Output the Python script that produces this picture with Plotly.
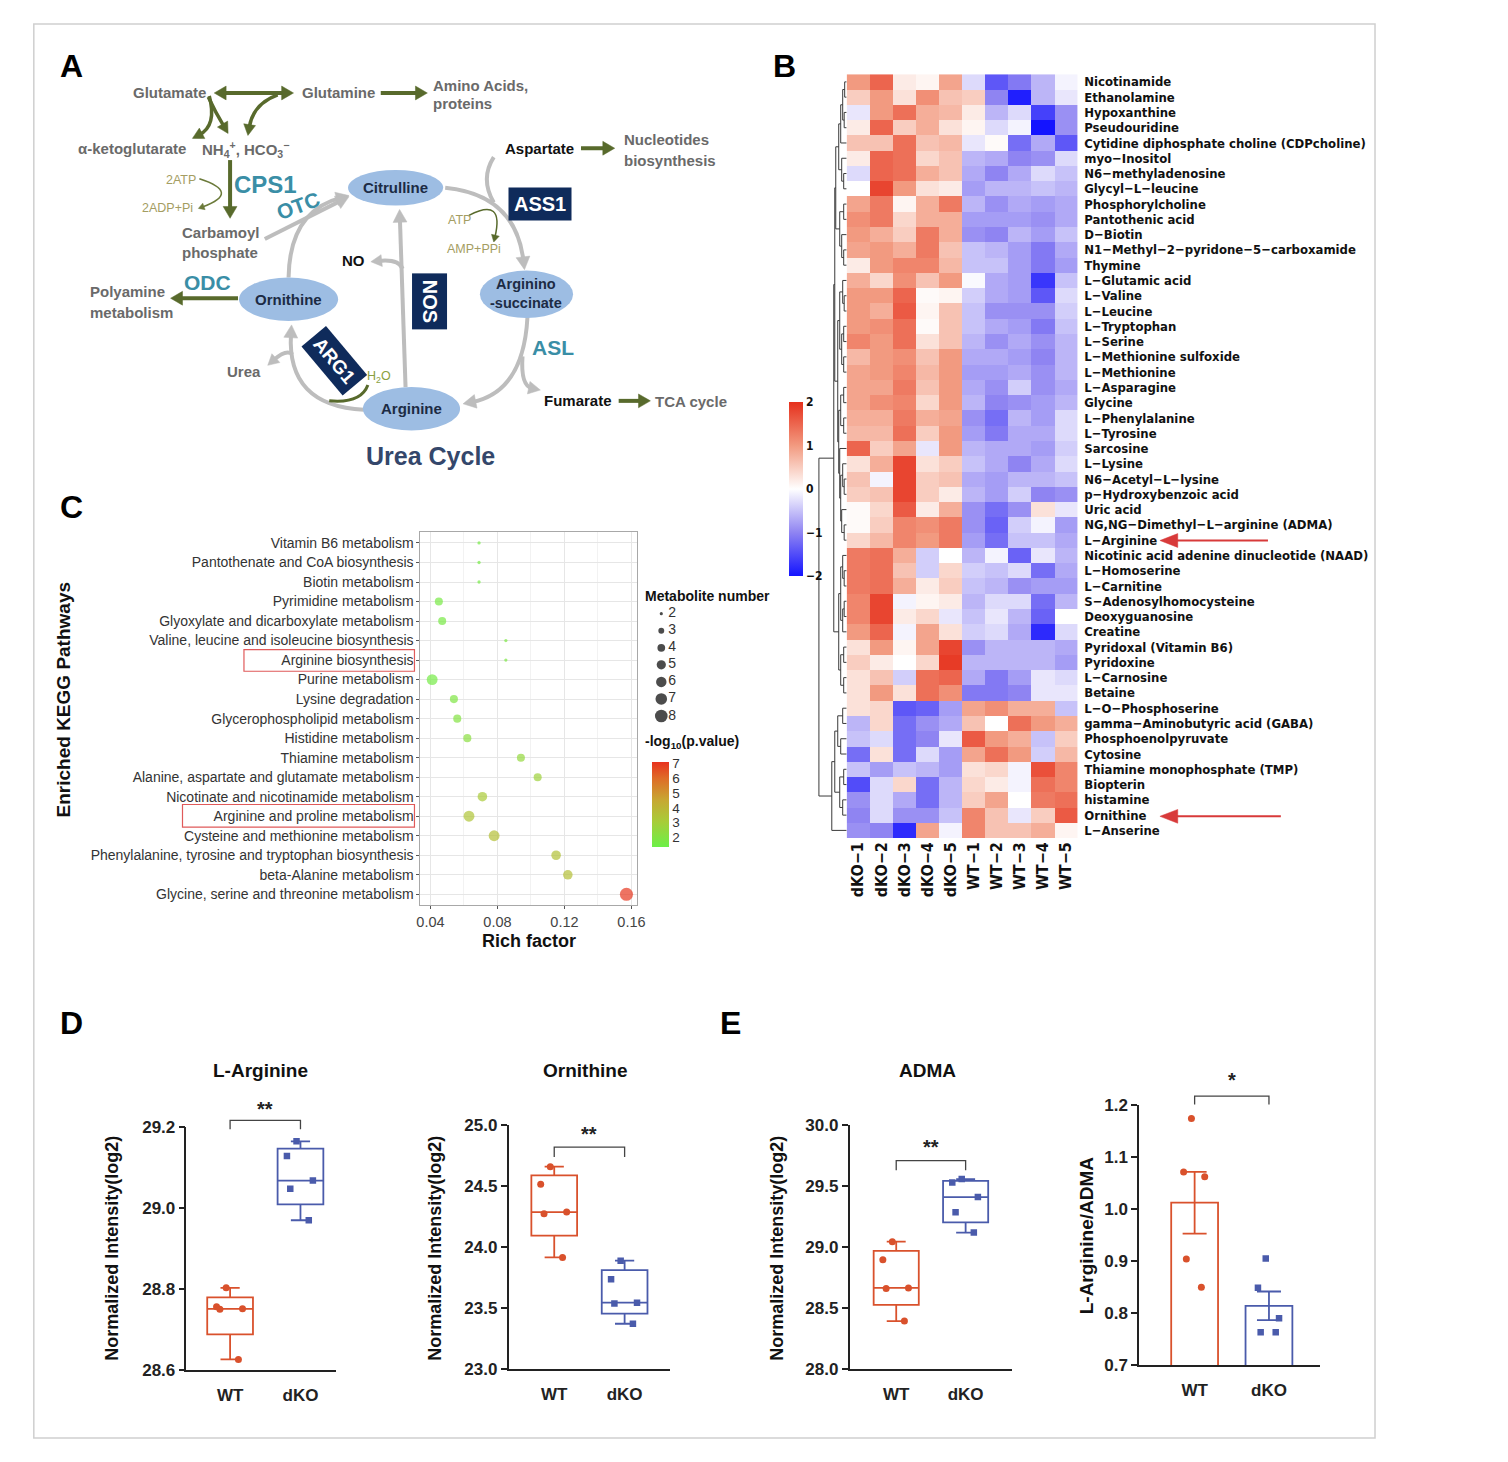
import math
import numpy as np
import plotly.graph_objects as go

W, H = 1508, 1462          # target picture size
OFF = 8                    # default page margin of the html body
FW, FH = W - 2 * OFF, H - 2 * OFF - 4
FONT = "Liberation Sans, Arial, Helvetica, sans-serif"
NARROW = "Liberation Sans Narrow, Arial Narrow, DejaVu Sans Condensed, Liberation Sans, sans-serif"

# ---------------- Panel B data (z-scored intensities) ----------------
heat_samples = ["dKO−1", "dKO−2", "dKO−3", "dKO−4", "dKO−5", "WT−1", "WT−2", "WT−3", "WT−4", "WT−5"]
heat_metabolites = [
    "Nicotinamide", "Ethanolamine", "Hypoxanthine", "Pseudouridine",
    "Cytidine diphosphate choline (CDPcholine)", "myo−Inositol", "N6−methyladenosine",
    "Glycyl−L−leucine", "Phosphorylcholine", "Pantothenic acid", "D−Biotin",
    "N1−Methyl−2−pyridone−5−carboxamide", "Thymine", "L−Glutamic acid", "L−Valine",
    "L−Leucine", "L−Tryptophan", "L−Serine", "L−Methionine sulfoxide", "L−Methionine",
    "L−Asparagine", "Glycine", "L−Phenylalanine", "L−Tyrosine", "Sarcosine", "L−Lysine",
    "N6−Acetyl−L−lysine", "p−Hydroxybenzoic acid", "Uric acid",
    "NG,NG−Dimethyl−L−arginine (ADMA)", "L−Arginine",
    "Nicotinic acid adenine dinucleotide (NAAD)", "L−Homoserine", "L−Carnitine",
    "S−Adenosylhomocysteine", "Deoxyguanosine", "Creatine", "Pyridoxal (Vitamin B6)",
    "Pyridoxine", "L−Carnosine", "Betaine", "L−O−Phosphoserine",
    "gamma−Aminobutyric acid (GABA)", "Phosphoenolpyruvate", "Cytosine",
    "Thiamine monophosphate (TMP)", "Biopterin", "histamine", "Ornithine", "L−Anserine",
]
heat_values = [
    [1.0, 1.5, 0.2, 0.1, 0.9, -0.3, -1.4, -1.1, -0.6, -0.1],
    [0.5, 1.0, 0.3, 1.1, 0.6, 0.5, -1.0, -1.9, -0.6, -0.2],
    [-0.2, 1.0, 1.4, 0.8, 0.7, 0.2, -0.6, -0.3, -1.6, -0.9],
    [0.2, 1.5, 0.5, 0.8, 0.3, 0.1, -0.3, -0.1, -2.0, -0.9],
    [0.6, 0.6, 1.4, 0.6, 0.7, -0.2, 0.05, -1.2, -0.7, -1.4],
    [0.2, 1.5, 1.4, 0.4, 0.6, -0.6, -0.7, -1.0, -0.9, -0.3],
    [-0.3, 1.5, 1.4, 0.8, 0.6, -0.7, -1.0, -0.7, -0.3, -0.5],
    [0.0, 1.8, 1.0, 0.3, 0.2, -0.8, -0.6, -0.6, -0.5, -0.6],
    [0.9, 1.3, 0.1, 0.8, 1.3, -0.6, -0.9, -0.7, -0.8, -0.7],
    [1.1, 1.3, 0.4, 0.8, 0.8, -0.8, -0.8, -0.8, -0.9, -0.7],
    [1.0, 0.8, 0.5, 1.3, 0.8, -0.9, -1.0, -0.6, -0.8, -0.5],
    [0.9, 1.0, 0.8, 1.3, 0.6, -0.5, -0.6, -0.8, -1.1, -0.7],
    [0.2, 1.0, 1.2, 1.2, 0.7, -0.5, -0.5, -0.8, -1.1, -0.8],
    [0.8, 0.4, 1.1, 0.6, 1.0, -0.05, -0.7, -0.8, -1.7, -0.5],
    [1.0, 1.0, 1.5, 0.05, 0.1, -0.4, -0.7, -0.8, -1.4, -0.3],
    [1.0, 0.8, 1.6, 0.1, 0.6, -0.5, -0.9, -0.9, -0.9, -0.4],
    [1.0, 1.1, 1.4, 0.05, 0.6, -0.5, -0.7, -0.8, -1.1, -0.5],
    [1.2, 1.0, 1.4, 0.3, 0.6, -0.6, -0.9, -0.7, -0.9, -0.6],
    [0.7, 1.0, 1.1, 0.6, 1.0, -0.7, -0.7, -0.8, -1.0, -0.6],
    [0.9, 1.0, 1.2, 0.7, 1.0, -0.8, -0.8, -0.7, -0.9, -0.6],
    [0.9, 0.9, 1.3, 0.6, 1.0, -0.7, -0.9, -0.4, -0.9, -0.7],
    [0.9, 1.1, 1.2, 0.4, 1.0, -0.6, -1.0, -0.9, -0.8, -0.6],
    [0.8, 0.8, 1.3, 0.8, 0.9, -0.9, -1.2, -0.6, -0.8, -0.3],
    [0.7, 0.7, 1.4, 0.5, 1.0, -0.8, -1.1, -0.7, -0.7, -0.3],
    [1.5, 0.5, 0.9, -0.2, 1.0, -0.6, -0.7, -0.7, -0.8, -0.4],
    [0.3, 0.8, 1.8, 0.3, 0.5, -0.5, -0.7, -1.0, -0.7, -0.3],
    [0.6, -0.1, 1.8, 0.5, 0.6, -0.7, -0.8, -0.6, -0.6, -0.5],
    [0.5, 0.6, 1.8, 0.5, 0.2, -0.6, -0.8, -0.4, -1.0, -0.9],
    [0.05, 0.4, 1.6, 0.2, 0.8, -0.9, -1.2, -0.9, 0.3, -0.2],
    [0.05, 0.5, 1.2, 1.1, 1.3, -0.9, -1.3, -0.4, -0.1, -0.8],
    [0.4, 0.7, 1.2, 1.0, 1.3, -0.8, -1.2, -0.5, -0.5, -0.7],
    [1.3, 1.4, 0.8, -0.4, 0.0, -0.6, -0.1, -1.3, -0.2, -0.6],
    [1.3, 1.4, 0.6, -0.4, 0.4, -0.4, -0.5, -0.3, -1.2, -0.7],
    [1.3, 1.4, 0.8, 0.2, 0.5, -0.5, -0.6, -0.9, -0.8, -0.8],
    [1.2, 1.8, -0.1, 0.1, 0.2, -0.6, -0.3, -0.3, -1.2, -0.6],
    [1.2, 1.8, 0.2, 0.4, -0.2, -0.5, -0.2, -0.6, -1.3, 0.0],
    [1.0, 1.5, -0.1, 0.9, 0.3, -0.4, -0.3, -0.7, -1.8, -0.3],
    [0.3, 1.0, 0.1, 0.9, 1.8, -0.9, -0.6, -0.6, -0.6, -0.7],
    [0.5, 0.2, 0.0, 0.4, 1.9, -0.6, -0.6, -0.6, -0.6, -0.8],
    [0.3, 0.6, -0.4, 1.4, 1.5, -0.7, -1.1, -0.8, -0.2, -0.3],
    [0.3, 1.0, 0.3, 1.4, 1.1, -1.1, -1.1, -1.0, -0.2, -0.2],
    [0.3, 0.4, -1.4, -1.3, -0.8, 0.9, 1.1, 0.8, 0.8, -0.5],
    [-0.6, 0.4, -1.2, -0.9, -0.7, 0.6, 0.0, 1.4, 1.0, 0.8],
    [-0.5, -0.3, -1.2, -1.0, -0.2, 1.6, 1.0, 0.8, -0.5, 0.5],
    [-1.2, 0.3, -1.2, -0.3, -0.8, 0.9, 1.4, 1.0, -0.4, 0.7],
    [-0.5, -0.8, -0.5, -0.6, -0.8, 0.3, 0.4, -0.1, 1.7, 1.2],
    [-1.5, -0.3, 0.4, -1.2, -0.6, 0.4, 0.2, -0.1, 1.4, 1.2],
    [-0.9, -0.3, -0.7, -1.2, -0.6, 0.5, 0.9, 0.0, 1.3, 1.4],
    [-1.0, -0.3, -0.9, -0.9, -0.5, 1.2, 0.6, -0.2, 0.5, 1.6],
    [-0.9, -1.0, -1.8, 0.9, -0.1, 1.2, 0.6, 0.6, 0.8, 0.1],
]
# row dendrogram (merge height, left, right); leaves are row indices
row_tree = (28,
            (13,
             (12,
              (11,
               (8, (6, (4, (2, 0, 1), (2.5, 2, 3)), 4), (5, 5, (3, 6, 7))),
               (7, (3, 8, 9), (5, 10, (3, 11, 12)))),
              (9, (7, (4, 13, (2.5, 14, 15)), (5, (3, 16, 17), (3, 18, 19))),
               (8, (6, (3, 20, 21), (3, 22, 23)),
                (7, 24, (6, (4, 25, (2.5, 26, 27)), (5, 28, (2.5, 29, 30))))))),
             (8, (6, (4, 31, (2.5, 32, 33)), (4, (2.5, 34, 35), 36)),
              (6, (3, 37, 38), (3, 39, 40)))),
            (15,
             (12, (9, (4, 41, 42), (6, 43, 44)), (7, (3, 45, 46), (4, 47, 48))),
             49))

# ---------------- Panel C data (KEGG enrichment) ----------------
kegg_pathways = [
    "Vitamin B6 metabolism", "Pantothenate and CoA biosynthesis", "Biotin metabolism",
    "Pyrimidine metabolism", "Glyoxylate and dicarboxylate metabolism",
    "Valine, leucine and isoleucine biosynthesis", "Arginine biosynthesis",
    "Purine metabolism", "Lysine degradation", "Glycerophospholipid metabolism",
    "Histidine metabolism", "Thiamine metabolism",
    "Alanine, aspartate and glutamate metabolism", "Nicotinate and nicotinamide metabolism",
    "Arginine and proline metabolism", "Cysteine and methionine metabolism",
    "Phenylalanine, tyrosine and tryptophan biosynthesis", "beta-Alanine metabolism",
    "Glycine, serine and threonine metabolism",
]
kegg_rich_factor = [0.069, 0.069, 0.069, 0.045, 0.047, 0.085, 0.085, 0.041, 0.054, 0.056,
                    0.062, 0.094, 0.104, 0.071, 0.063, 0.078, 0.115, 0.122, 0.157]
kegg_metabolite_number = [2, 2, 2, 4, 4, 2, 2, 6, 4, 4, 4, 4, 4, 5, 6, 6, 5, 5, 8]
kegg_neg_log10_p = [1.6, 1.6, 1.6, 1.7, 1.7, 1.8, 1.8, 1.6, 1.9, 2.0,
                    2.2, 2.5, 2.8, 3.1, 3.4, 3.6, 3.5, 3.6, 7.0]
size_legend_numbers = [2, 3, 4, 5, 6, 7, 8]

# ---------------- Panel D / E data ----------------
group_labels = ["WT", "dKO"]
larg_wt = [28.803, 28.756, 28.750, 28.751, 28.626]
larg_dko = [29.165, 29.129, 29.068, 29.048, 28.970]
orn_wt = [24.660, 24.515, 24.287, 24.273, 23.915]
orn_dko = [23.888, 23.735, 23.544, 23.538, 23.371]
adma_wt = [29.044, 28.895, 28.665, 28.660, 28.393]
adma_dko = [29.558, 29.529, 29.410, 29.286, 29.119]
ratio_wt = [1.175, 1.0625, 1.072, 0.904, 0.850]
ratio_dko = [0.905, 0.849, 0.790, 0.763, 0.763]

# ---------------- styles ----------------
RED, BLUE = "#d9512c", "#4a5bab"
OLIVE, GRAY, TEAL, NAVY = "#586a2c", "#bdbdbd", "#3a8ea6", "#0f2b5b"
KHAKI, TXTGRAY, ELLTXT, ELLFILL = "#a49d62", "#6a6a6a", "#1c2b44", "#9dbde3"
HEAT_CS = [[0, "#1414ff"], [0.25, "#8f84f2"], [0.5, "#ffffff"], [0.75, "#f29a80"], [1, "#e6301c"]]
BUB_CS = [[0, "#6cf048"], [0.3, "#a8cc38"], [0.55, "#c7a832"], [0.8, "#de6e28"], [1, "#e8321e"]]

fig = go.Figure()
shapes, annots = [], []


def fx(x):
    return (x - OFF) / FW


def fy(y):
    return 1 - (y - OFF) / FH


def pt(x, y):
    return f"{fx(x):.5f},{fy(y):.5f}"


def dom_x(a, b):
    return [fx(a), fx(b)]


def dom_y(top, bottom):
    return [fy(bottom), fy(top)]


def _head(tip, frm, L, hw):
    dx, dy = tip[0] - frm[0], tip[1] - frm[1]
    n = math.hypot(dx, dy) or 1.0
    ux, uy = dx / n, dy / n
    bx, by = tip[0] - ux * L, tip[1] - uy * L
    p1 = (bx - uy * hw, by + ux * hw)
    p2 = (bx + uy * hw, by - ux * hw)
    base = (tip[0] - ux * L * 0.7, tip[1] - uy * L * 0.7)
    return f"M{pt(*tip)} L{pt(*p1)} L{pt(*p2)} Z", base


def arrow(p0, p1, color, width, ctrl=None, L=11, hw=6, end=True, start=False):
    heads = []
    q0, q1 = p0, p1
    if end:
        d, q1 = _head(p1, ctrl if ctrl else p0, L, hw)
        heads.append(d)
    if start:
        d, q0 = _head(p0, ctrl if ctrl else p1, L, hw)
        heads.append(d)
    if ctrl:
        path = f"M{pt(*q0)} Q{pt(*ctrl)} {pt(*q1)}"
    else:
        path = f"M{pt(*q0)} L{pt(*q1)}"
    shapes.append(dict(type="path", path=path, xref="paper", yref="paper",
                       line=dict(color=color, width=width)))
    for d in heads:
        shapes.append(dict(type="path", path=d, xref="paper", yref="paper",
                           fillcolor=color, line=dict(color=color, width=0.5)))


def txt(x, y, s, size=15, color=TXTGRAY, bold=True, xanchor="center", angle=0,
        family=FONT, **kw):
    annots.append(dict(x=fx(x), y=fy(y), xref="paper", yref="paper",
                       text=(f"<b>{s}</b>" if bold else s), showarrow=False,
                       xanchor=xanchor, yanchor="middle", textangle=angle,
                       font=dict(family=family, size=size, color=color), **kw))


def ellipse(cx, cy, rx, ry):
    shapes.append(dict(type="circle", xref="paper", yref="paper",
                       x0=fx(cx - rx), x1=fx(cx + rx), y0=fy(cy + ry), y1=fy(cy - ry),
                       fillcolor=ELLFILL, line=dict(width=0)))


def rect(x0, y0, x1, y1, color, width=1.2):
    shapes.append(dict(type="rect", xref="paper", yref="paper",
                       x0=fx(x0), x1=fx(x1), y0=fy(y1), y1=fy(y0),
                       line=dict(color=color, width=width)))


# frame
shapes.append(dict(type="rect", xref="paper", yref="paper", x0=fx(30), x1=fx(1383),
                   y0=fy(1448), y1=fy(15), line=dict(color="#cfcfcf", width=1.5), layer="below"))

# ---------------- Panel A : urea cycle diagram ----------------
arrow((212, 85), (292, 85), OLIVE, 4, L=12, hw=7, start=True)
arrow((380, 85), (427, 85), OLIVE, 4, L=12, hw=7)
arrow((207, 88), (190, 131), OLIVE, 3.5, ctrl=(215, 118), L=11, hw=6)
arrow((206, 89), (226, 126), OLIVE, 3.5, ctrl=(213, 104), L=11, hw=6)
arrow((276, 87), (246, 128), OLIVE, 3.5, ctrl=(251, 96), L=11, hw=6)
arrow((228, 153), (228, 212), OLIVE, 4, L=12, hw=7)
arrow((197, 172), (196, 202), "#6b7a3a", 1.5, ctrl=(240, 186), L=6, hw=3.5)
arrow((287, 272), (348, 189), GRAY, 4, ctrl=(288, 205), L=13, hw=7)
arrow((263, 233), (348, 190), GRAY, 4, L=13, hw=7)
arrow((445, 181), (525, 264), GRAY, 4, ctrl=(516, 188), L=13, hw=7)
arrow((494, 150), (494, 196), GRAY, 4, ctrl=(480, 172), end=False)
arrow((469, 209), (494, 236), OLIVE, 1.5, ctrl=(505, 190), L=7, hw=4)
arrow((528, 312), (463, 400), GRAY, 4, ctrl=(524, 388), L=13, hw=7)
arrow((523, 352), (541, 386), GRAY, 4, ctrl=(521, 382), L=12, hw=6.5)
arrow((363, 406), (290, 320), GRAY, 4, ctrl=(285, 402), L=13, hw=7)
arrow((291, 350), (266, 361), GRAY, 4, ctrl=(285, 344), L=11, hw=6)
arrow((405, 383), (399, 203), GRAY, 4, L=13, hw=7)
arrow((402, 263), (370, 256), GRAY, 4, ctrl=(398, 253), L=11, hw=6)
arrow((236, 293), (168, 293), OLIVE, 4, L=12, hw=7)
arrow((582, 141), (616, 141), OLIVE, 4, L=12, hw=7)
arrow((620, 397), (652, 397), OLIVE, 4, L=12, hw=7)
arrow((367, 381), (328, 397), OLIVE, 3, ctrl=(360, 400), end=False)

ellipse(395, 181, 48, 18)
ellipse(287, 294, 50, 22)
ellipse(527, 289, 47, 24)
ellipse(411, 405, 49, 22)

txt(167, 85, "Glutamate")
txt(337, 85, "Glutamine")
txt(431, 77, "Amino Acids,", xanchor="left")
txt(431, 96, "proteins", xanchor="left")
txt(129, 141, "α-ketoglutarate")
txt(244, 142, "NH<sub>4</sub><sup>+</sup>, HCO<sub>3</sub><sup>−</sup>")
txt(264, 178, "CPS1", size=24, color=TEAL)
txt(178, 173, "2ATP", size=12.5, color=KHAKI, bold=False)
txt(165, 202, "2ADP+Pi", size=12.5, color=KHAKI, bold=False)
txt(297, 199, "OTC", size=21, color=TEAL, angle=-20)
txt(219, 226, "Carbamoyl")
txt(218, 247, "phosphate")
txt(395, 181, "Citrulline", color=ELLTXT)
txt(540, 141, "Aspartate", color="#111111")
txt(623, 132, "Nucleotides", xanchor="left")
txt(623, 153, "biosynthesis", xanchor="left")
txt(541, 198, "ASS1", size=20, color="white", bgcolor=NAVY, borderpad=5)
txt(459, 214, "ATP", size=12.5, color=KHAKI, bold=False)
txt(474, 243, "AMP+PPi", size=12.5, color=KHAKI, bold=False)
txt(352, 255, "NO", color="#111111")
txt(429, 296, "NOS", size=20, color="white", angle=90, bgcolor=NAVY, borderpad=6)
txt(205, 277, "ODC", size=21, color=TEAL)
txt(125, 286, "Polyamine")
txt(129, 307, "metabolism")
txt(287, 294, "Ornithine", color=ELLTXT)
txt(527, 288, "Arginino<br>-succinate", size=14.5, color=ELLTXT)
txt(333, 356, "ARG1", size=19, color="white", angle=50, bgcolor=NAVY, borderpad=5)
txt(242, 367, "Urea")
txt(378, 373, "H<sub>2</sub>O", size=12.5, color="#8aa040", bold=False)
txt(554, 343, "ASL", size=21, color=TEAL)
txt(411, 405, "Arginine", color=ELLTXT)
txt(579, 397, "Fumarate", color="#111111")
txt(693, 398, "TCA cycle")
txt(430, 453, "Urea Cycle", size=25, color="#34476b")

# panel letters
for lx, ly, lt in [(68, 58, "A"), (787, 58, "B"), (68, 505, "C"), (68, 1027, "D"), (733, 1027, "E")]:
    txt(lx, ly, lt, size=32, color="#000000")

# ---------------- Panel B : heatmap ----------------
n_rows, n_cols = len(heat_metabolites), len(heat_samples)
fig.add_trace(go.Heatmap(
    z=heat_values, x=list(range(n_cols)), y=list(range(n_rows)),
    colorscale=HEAT_CS, zmin=-2, zmax=2, xaxis="x", yaxis="y", hoverinfo="skip",
    colorbar=dict(x=fx(792), xanchor="left", y=fy(398), yanchor="top", len=174,
                  lenmode="pixels", thickness=14, xpad=0, ypad=0, outlinewidth=0,
                  tickvals=[-2, -1, 0, 1, 2], ticktext=["−2", "−1", "0", "1", "2"],
                  ticks="", tickfont=dict(family=NARROW, size=12, color="#111", weight="bold")),
))

dx_, dy_ = [], []


def walk(node):
    if isinstance(node, int):
        return float(node), 0.0
    h, a, b = node
    ya, ha = walk(a)
    yb, hb = walk(b)
    dx_.extend([ha, h, h, hb, None])
    dy_.extend([ya, ya, yb, yb, None])
    return (ya + yb) / 2, h


walk(row_tree)
fig.add_trace(go.Scatter(x=dx_, y=dy_, mode="lines", line=dict(color="#3a3a3a", width=1),
                         xaxis="x9", yaxis="y9", hoverinfo="skip", showlegend=False))

# highlight arrows
for yy, xs in [(538.5, 1275), (818, 1288)]:
    arrow((xs, yy), (1166, yy), "#d83a3a", 2, L=18, hw=7)

# ---------------- Panel C : KEGG bubble plot ----------------
bubble_d = [5.2 * math.sqrt(n - 1.6) for n in kegg_metabolite_number]
fig.add_trace(go.Scatter(
    x=kegg_rich_factor, y=list(range(len(kegg_pathways))), mode="markers",
    xaxis="x2", yaxis="y2", hoverinfo="skip", showlegend=False,
    marker=dict(size=bubble_d, sizemode="diameter", color=kegg_neg_log10_p,
                colorscale=BUB_CS, cmin=1.35, cmax=7.1, line=dict(width=0),
                showscale=True,
                colorbar=dict(x=fx(654), xanchor="left", y=fy(763), yanchor="top",
                              len=85, lenmode="pixels", thickness=17, xpad=0, ypad=0,
                              outlinewidth=0, tickvals=[2, 3, 4, 5, 6, 7], ticks="",
                              tickfont=dict(family=FONT, size=13.5, color="#333"))),
))
legend_d = [5.0 * math.sqrt(n - 1.6) for n in size_legend_numbers]
fig.add_trace(go.Scatter(
    x=[11] * len(size_legend_numbers), y=list(range(len(size_legend_numbers))),
    mode="markers", marker=dict(size=legend_d, sizemode="diameter", color="black",
                                line=dict(width=0)),
    xaxis="x3", yaxis="y3", hoverinfo="skip", showlegend=False, cliponaxis=False,
))
fig.add_trace(go.Scatter(
    x=[18] * len(size_legend_numbers), y=list(range(len(size_legend_numbers))),
    mode="text", text=[str(n) for n in size_legend_numbers], textposition="middle right",
    textfont=dict(family=FONT, size=14, color="#333"),
    xaxis="x3", yaxis="y3", hoverinfo="skip", showlegend=False, cliponaxis=False,
))
txt(645, 595, "Metabolite number", size=14, color="#111", xanchor="left")
txt(645, 743, "-log<sub>10</sub>(p.value)", size=14, color="#111", xanchor="left")
txt(530, 944, "Rich factor", size=18, color="#111")
txt(60, 700, "Enriched KEGG Pathways", size=19, color="#111", angle=-90)
rect(242, 649, 414, 671, "#e05a5a")
rect(180, 806, 414, 829, "#e05a5a")

# ---------------- Panels D / E ----------------
panels = {
    "D1": dict(ax=4, xpx=(184, 335), ypx=(1133, 1379), xr=(-0.62, 1.507), yr=(28.6, 29.2),
               ticks=[28.6, 28.8, 29.0, 29.2]),
    "D2": dict(ax=5, xpx=(509, 672), ypx=(1131, 1378), xr=(-0.648, 1.648), yr=(23.0, 25.0),
               ticks=[23.0, 23.5, 24.0, 24.5, 25.0]),
    "E1": dict(ax=6, xpx=(853, 1017), ypx=(1131, 1378), xr=(-0.671, 1.671), yr=(28.0, 30.0),
               ticks=[28.0, 28.5, 29.0, 29.5, 30.0]),
    "E2": dict(ax=7, xpx=(1145, 1327), ypx=(1111, 1374), xr=(-0.747, 1.68), yr=(0.7, 1.2),
               ticks=[0.7, 0.8, 0.9, 1.0, 1.1, 1.2]),
}


def to_px(p, xv, yv):
    (x0, x1), (t, b) = p["xpx"], p["ypx"]
    (a0, a1), (v0, v1) = p["xr"], p["yr"]
    return (x0 + (xv - a0) / (a1 - a0) * (x1 - x0), b - (yv - v0) / (v1 - v0) * (b - t))


def box_pair(p, wt, dko):
    ax = p["ax"]
    for pos, vals, col, sym, ms in [(0, wt, RED, "circle", 7), (1, dko, BLUE, "square", 6.5)]:
        fig.add_trace(go.Box(
            x=[pos] * len(vals), y=vals, xaxis=f"x{ax}", yaxis=f"y{ax}",
            boxpoints="all", jitter=0.7, pointpos=0, quartilemethod="exclusive",
            width=0.65, whiskerwidth=0.42, fillcolor="rgba(0,0,0,0)",
            line=dict(color=col, width=1.8), marker=dict(color=col, symbol=sym, size=ms),
            hoverinfo="skip", showlegend=False))


def bracket(p, y_leg, y_top, y_star, stars):
    a = to_px(p, 0, y_leg)
    b = to_px(p, 0, y_top)
    c = to_px(p, 1, y_top)
    d = to_px(p, 1, y_leg)
    shapes.append(dict(type="path", xref="paper", yref="paper",
                       path=f"M{pt(*a)} L{pt(*b)} L{pt(*c)} L{pt(*d)}",
                       line=dict(color="#444", width=1.3)))
    s = to_px(p, 0.5, y_star)
    txt(s[0], s[1], stars, size=20, color="#222")


box_pair(panels["D1"], larg_wt, larg_dko)
box_pair(panels["D2"], orn_wt, orn_dko)
box_pair(panels["E1"], adma_wt, adma_dko)

# ratio bar chart (mean ± SEM) with individual points
pE2 = panels["E2"]
for pos, vals, col, sym, ms in [(0, ratio_wt, RED, "circle", 7), (1, ratio_dko, BLUE, "square", 6.5)]:
    arr = np.array(vals)
    mean = float(arr.mean())
    sem = float(arr.std(ddof=1) / math.sqrt(len(arr)))
    fig.add_trace(go.Bar(
        x=[pos], y=[mean], width=0.63, xaxis="x7", yaxis="y7",
        marker=dict(color="rgba(0,0,0,0)", line=dict(color=col, width=1.8)),
        error_y=dict(type="data", array=[sem], color=col, thickness=1.8, width=12),
        hoverinfo="skip", showlegend=False))
    fig.add_trace(go.Box(
        x=[pos] * len(vals), y=vals, xaxis="x7", yaxis="y7", boxpoints="all", jitter=0.7,
        pointpos=0, width=0.5, whiskerwidth=0, fillcolor="rgba(0,0,0,0)",
        line=dict(color="rgba(0,0,0,0)", width=0), marker=dict(color=col, symbol=sym, size=ms),
        hoverinfo="skip", showlegend=False))

bracket(panels["D1"], 29.195, 29.217, 29.245, "**")
bracket(panels["D2"], 24.74, 24.82, 24.93, "**")
bracket(panels["E1"], 29.63, 29.71, 29.82, "**")
bracket(pE2, 1.202, 1.218, 1.25, "*")

txt(259, 1076, "L-Arginine", size=19, color="#111")
txt(586, 1076, "Ornithine", size=19, color="#111")
txt(932, 1076, "ADMA", size=19, color="#111")
txt(108, 1256, "Normalized Intensity(log2)", size=18, color="#111", angle=-90)
txt(434, 1256, "Normalized Intensity(log2)", size=18, color="#111", angle=-90)
txt(779, 1256, "Normalized Intensity(log2)", size=18, color="#111", angle=-90)
txt(1092, 1243, "L-Arginine/ADMA", size=19, color="#111", angle=-90)

# ---------------- layout ----------------
layout = dict(
    width=FW, height=FH, margin=dict(l=0, r=0, t=0, b=0),
    paper_bgcolor="white", plot_bgcolor="rgba(0,0,0,0)",
    font=dict(family=FONT, color="#222"), barmode="overlay", showlegend=False,
    xaxis=dict(domain=dom_x(850, 1083), anchor="y", tickvals=list(range(n_cols)),
               ticktext=heat_samples, tickangle=-90, showgrid=False, zeroline=False,
               ticks="", range=[-0.5, n_cols - 0.5],
               tickfont=dict(family=NARROW, size=16, color="#111", weight="bold")),
    yaxis=dict(domain=dom_y(66, 840), anchor="x", side="right", tickvals=list(range(n_rows)),
               ticktext=heat_metabolites, range=[n_rows - 0.5, -0.5], showgrid=False,
               zeroline=False, ticks="outside", ticklen=3, tickcolor="rgba(0,0,0,0)",
               tickfont=dict(family=NARROW, size=13, color="#111", weight="bold")),
    xaxis9=dict(domain=dom_x(818, 850), anchor="y9", range=[32, 0], visible=False),
    yaxis9=dict(domain=dom_y(66, 840), anchor="x9", range=[n_rows - 0.5, -0.5], visible=False),
    xaxis2=dict(domain=dom_x(420, 638), anchor="y2", range=[0.034, 0.163],
                tickvals=[0.04, 0.08, 0.12, 0.16], ticktext=["0.04", "0.08", "0.12", "0.16"],
                showgrid=True, gridcolor="#e6e6e6", gridwidth=1, zeroline=False,
                minor=dict(tickvals=[0.06, 0.10, 0.14], showgrid=True, gridcolor="#f2f2f2",
                           gridwidth=0.6),
                showline=True, mirror=True, linecolor="#a8a8a8", linewidth=1,
                ticks="outside", ticklen=3, tickcolor="#555",
                tickfont=dict(family=FONT, size=14.5, color="#444")),
    yaxis2=dict(domain=dom_y(530, 908), anchor="x2", range=[18.556, -0.556],
                tickvals=list(range(len(kegg_pathways))), ticktext=kegg_pathways,
                showgrid=True, gridcolor="#e6e6e6", gridwidth=1, zeroline=False,
                showline=True, mirror=True, linecolor="#a8a8a8", linewidth=1,
                ticks="outside", ticklen=3, tickcolor="#555",
                tickfont=dict(family=FONT, size=14, color="#333")),
    xaxis3=dict(domain=dom_x(652, 700), anchor="y3", range=[0, 48], visible=False),
    yaxis3=dict(domain=dom_y(604, 725), anchor="x3", range=[6.5, -0.5], visible=False),
)
for key, p in panels.items():
    ax = p["ax"]
    layout[f"xaxis{ax}"] = dict(
        domain=dom_x(*p["xpx"]), anchor=f"y{ax}", range=list(p["xr"]), tickvals=[0, 1],
        ticktext=group_labels, showgrid=False, zeroline=False, showline=True,
        linecolor="#222", linewidth=1.6, ticks="outside", ticklen=9,
        tickcolor="rgba(0,0,0,0)",
        tickfont=dict(family=FONT, size=17, color="#222", weight="bold"))
    layout[f"yaxis{ax}"] = dict(
        domain=dom_y(*p["ypx"]), anchor=f"x{ax}", range=list(p["yr"]), tickvals=p["ticks"],
        tickformat=".1f", showgrid=False, zeroline=False, showline=True, linecolor="#222",
        linewidth=1.6, ticks="outside", ticklen=6, tickwidth=1.6, tickcolor="#222",
        tickfont=dict(family=FONT, size=17, color="#222", weight="bold"))

layout["shapes"] = shapes
layout["annotations"] = annots
fig.update_layout(**layout)

fig.write_html("out.html", config={"displayModeBar": False},
               post_script="document.documentElement.style.overflow='hidden';"
                           "document.body.style.overflow='hidden';")
